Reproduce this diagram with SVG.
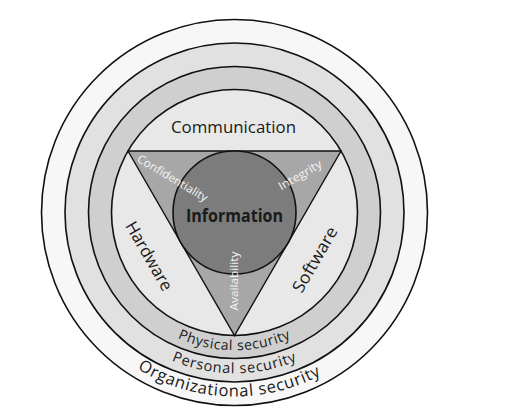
<svg xmlns="http://www.w3.org/2000/svg" width="507" height="418" viewBox="0 0 507 418">
<style>
.ring{stroke:#111;stroke-width:1.6}
.lbl{font-family:"Open Sans","Noto Sans",sans-serif;fill:#1a1a1a}
.cia{font-family:"Open Sans","Noto Sans",sans-serif;fill:#f4f4f4;font-size:11.5px}
</style>
<defs>
<path id="arcPhys" d="M 96.7 212.5 A 137.8 137.8 0 0 0 372.3 212.5"/>
<path id="arcPers" d="M 73.7 212.5 A 160.8 160.8 0 0 0 395.3 212.5"/>
<path id="arcOrg" d="M 50.5 212.5 A 184 184 0 0 0 418.5 212.5"/>
</defs>
<rect width="507" height="418" fill="#ffffff"/>
<g id="organizational">
<circle class="ring" cx="234.5" cy="212.5" r="193" fill="#f7f7f7"/>
</g>
<g id="personal">
<circle class="ring" cx="234.5" cy="212.5" r="169.5" fill="#e1e1e1"/>
</g>
<g id="physical">
<circle class="ring" cx="234.5" cy="212.5" r="146" fill="#cfcfcf"/>
</g>
<g id="assets">
<circle class="ring" cx="234.5" cy="212.5" r="123" fill="#e8e8e8"/>
</g>
<g id="cia-triangle">
<polygon points="128,151 341,151 234.5,335.5" fill="#a7a7a7" stroke="#111" stroke-width="1.4" stroke-linejoin="miter"/>
</g>
<g id="information">
<circle class="ring" cx="234.5" cy="212.5" r="61.5" fill="#7c7c7c"/>
<text class="lbl" x="234.5" y="221.5" font-size="17" font-weight="bold" text-anchor="middle" textLength="97" lengthAdjust="spacingAndGlyphs">Information</text>
</g>
<g id="labels">
<text class="lbl" x="233.5" y="133" font-size="17" text-anchor="middle" textLength="125" lengthAdjust="spacingAndGlyphs">Communication</text>
<text class="lbl" font-size="17" text-anchor="middle" transform="translate(144,259) rotate(60)" textLength="77" lengthAdjust="spacingAndGlyphs">Hardware</text>
<text class="lbl" font-size="17" text-anchor="middle" transform="translate(320,262.5) rotate(-60)" textLength="73" lengthAdjust="spacingAndGlyphs">Software</text>
<text class="cia" text-anchor="middle" transform="translate(170.5,181.5) rotate(31)" textLength="80" lengthAdjust="spacingAndGlyphs">Confidentiality</text>
<text class="cia" text-anchor="middle" transform="translate(302,178.5) rotate(-30)" textLength="48" lengthAdjust="spacingAndGlyphs">Integrity</text>
<text class="cia" text-anchor="middle" transform="translate(237.5,281) rotate(-90)" textLength="59" lengthAdjust="spacingAndGlyphs">Availability</text>
<text class="lbl" font-size="14" letter-spacing="0.6"><textPath href="#arcPhys" startOffset="50%" text-anchor="middle">Physical security</textPath></text>
<text class="lbl" font-size="14.5" letter-spacing="0.8"><textPath href="#arcPers" startOffset="50%" text-anchor="middle">Personal security</textPath></text>
<text class="lbl" font-size="16.5" letter-spacing="0.7"><textPath href="#arcOrg" startOffset="49%" text-anchor="middle">Organizational security</textPath></text>
</g>
</svg>
